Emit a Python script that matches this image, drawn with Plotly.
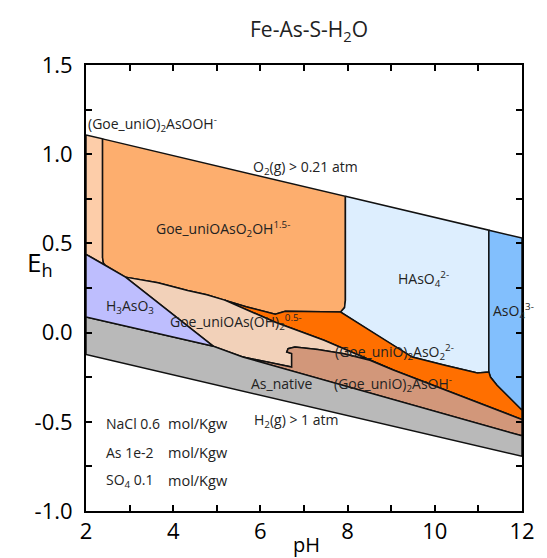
import plotly.graph_objects as go

# ---- Phase boundaries (pH, Eh in volts) ----
o2_line = [(2.0, 1.108), (2.38, 1.086), (7.95, 0.764), (11.24, 0.574), (12.0, 0.530)]
h2_line = [(2.0, -0.123), (12.0, -0.693)]

left_divider = [(2.38, 1.086), (2.38, 0.42), (2.40, 0.39), (2.45, 0.376)]
blue_top = [(2.0, 0.439), (2.45, 0.376), (2.906, 0.311)]
blue_right = [(2.906, 0.311), (4.924, -0.077)]

pink_top_upper = [(2.906, 0.311), (3.65, 0.280), (4.33, 0.236), (4.77, 0.212), (5.18, 0.182)]
pink_top_lower = [(5.18, 0.182), (6.343, 0.058), (7.46, -0.043), (9.034, -0.208)]
dorange_top = [(5.18, 0.182), (5.67, 0.145), (6.34, 0.103), (6.57, 0.119), (7.84, 0.115)]
lo_corner = [(7.84, 0.115), (7.93, 0.14), (7.95, 0.181), (7.95, 0.764)]
hasO4_bottom = [(7.84, 0.115), (8.735, -0.025), (9.482, -0.137), (10.229, -0.183),
                (10.978, -0.226), (11.24, -0.221)]
aso4_left = [(11.24, 0.574), (11.24, -0.221)]
aso4_bottom = [(11.24, -0.221), (11.276, -0.249), (11.426, -0.295), (11.724, -0.370), (12.0, -0.435)]
dorange_bottom = [(9.034, -0.208), (12.0, -0.487)]
brown_top = [(9.034, -0.208), (8.511, -0.155), (7.913, -0.118), (7.314, -0.095), (6.792, -0.081),
             (6.635, -0.090), (6.605, -0.109), (6.717, -0.118), (6.717, -0.193), (6.193, -0.165),
             (5.596, -0.137)]
grey_top = [(2.0, 0.087), (4.924, -0.077), (5.596, -0.137), (12.0, -0.579)]

# ---- Region colours ----
colors = {
    "AsOOH": "#FDCDA9",
    "AsO2OH": "#FDAE6E",
    "HAsO4": "#DDEEFE",
    "AsO4": "#82BFFD",
    "AsO2": "#FF6F00",
    "AsOH2": "#F2D1B9",
    "AsOH": "#D2977A",
    "native": "#B9B9B9",
    "H3AsO3": "#BEBEFE",
}


def rev(seg):
    return list(reversed(seg))


def join(*segs):
    pts = []
    for s in segs:
        pts.extend(s)
    return pts


regions = [
    ("AsOOH", join(o2_line[:2], left_divider, rev(blue_top[:2]))),
    ("AsO2OH", join(o2_line[1:3], rev(lo_corner), rev(dorange_top), rev(pink_top_upper),
                    blue_top[1:2], rev(left_divider))),
    ("HAsO4", join(o2_line[2:4], aso4_left, rev(hasO4_bottom), lo_corner)),
    ("AsO4", join(o2_line[3:5], [(12.0, -0.435)], rev(aso4_bottom))),
    ("AsO2", join(dorange_top, hasO4_bottom, aso4_bottom, [(12.0, -0.487)],
                  rev(dorange_bottom), rev(pink_top_lower))),
    ("AsOH2", join(pink_top_upper, pink_top_lower, brown_top, [(4.924, -0.077)])),
    ("AsOH", join(rev(brown_top), dorange_bottom, rev(grey_top[2:]))),
    ("native", join(grey_top, rev(h2_line))),
    ("H3AsO3", join(blue_top, blue_right[1:], rev(grey_top[:2]))),
]

fig = go.Figure()
for name, pts in regions:
    fig.add_trace(go.Scatter(
        x=[p[0] for p in pts] + [pts[0][0]],
        y=[p[1] for p in pts] + [pts[0][1]],
        mode="lines",
        fill="toself",
        fillcolor=colors[name],
        line=dict(color="#111111", width=1.5),
        hoverinfo="skip",
        showlegend=False,
    ))

# ---- Region labels (left edge pH, Eh of text line) ----
label_font = dict(family="Open Sans", size=14, color="#222222")
labels = [
    (2.01, 1.172, "(Goe_uniO)<sub>2</sub>AsOOH<sup>-</sup>"),
    (5.78, 0.925, "O<sub>2</sub>(g) > 0.21 atm"),
    (3.57, 0.580, "Goe_uniOAsO<sub>2</sub>OH<sup>1.5-</sup>"),
    (9.12, 0.300, "HAsO<sub>4</sub><sup>2-</sup>"),
    (11.30, 0.123, "AsO<sub>4</sub><sup>3-</sup>"),
    (2.41, 0.146, "H<sub>3</sub>AsO<sub>3</sub>"),
    (3.89, 0.057, "Goe_uniOAs(OH)<sub>2</sub><sup>0.5-</sup>"),
    (7.66, -0.111, "(Goe_uniO)<sub>2</sub>AsO<sub>2</sub><sup>2-</sup>"),
    (5.74, -0.286, "As_native"),
    (7.64, -0.288, "(Goe_uniO)<sub>2</sub>AsOH<sup>-</sup>"),
    (5.80, -0.493, "H<sub>2</sub>(g) > 1 atm"),
]
for x, y, t in labels:
    fig.add_annotation(x=x, y=y, text=t, showarrow=False, font=label_font,
                       xanchor="left", yanchor="middle")

# ---- Composition note ----
species = ["NaCl 0.6", "As 1e-2", "SO<sub>4</sub> 0.1"]
units = ["mol/Kgw", "mol/Kgw", "mol/Kgw"]
note_eh = [-0.508, -0.670, -0.830]
for s, u, y in zip(species, units, note_eh):
    fig.add_annotation(x=2.41, y=y, text=s, showarrow=False, font=label_font,
                       xanchor="left", yanchor="middle")
    fig.add_annotation(x=3.83, y=y, text=u, showarrow=False,
                       font=dict(family="Open Sans", size=14.5, color="#222222"),
                       xanchor="left", yanchor="middle")

# ---- Axes ----
x_ticks = list(range(2, 13))
x_ticktext = [str(v) if v % 2 == 0 else "" for v in x_ticks]
y_ticks = [-1.0, -0.75, -0.5, -0.25, 0.0, 0.25, 0.5, 0.75, 1.0, 1.25, 1.5]
y_ticktext = ["-1.0", "", "-0.5", "", "0.0", "", "0.5", "", "1.0", "", "1.5"]

axis_common = dict(showline=True, linecolor="black", linewidth=2, mirror="ticks",
                   ticks="inside", ticklen=6, tickwidth=1.5, tickcolor="black",
                   showgrid=False, zeroline=False,
                   tickfont=dict(family="Open Sans", size=22, color="black"))

fig.update_xaxes(range=[2, 12], tickvals=x_ticks, ticktext=x_ticktext, **axis_common)
fig.update_yaxes(range=[-1, 1.5], tickvals=y_ticks, ticktext=y_ticktext,
                 ticklabelstandoff=7, **axis_common)

fig.add_annotation(xref="paper", yref="paper", x=0.505, y=-0.075, text="pH", showarrow=False,
                   font=dict(family="Open Sans", size=20, color="black"),
                   xanchor="center", yanchor="middle")
fig.add_annotation(xref="paper", yref="paper", x=-0.105, y=0.555, text="E<sub>h</sub>",
                   showarrow=False, font=dict(family="Open Sans", size=26, color="black"),
                   xanchor="center", yanchor="middle")

fig.update_layout(
    width=547, height=558,
    margin=dict(l=86, r=15, t=65, b=47),
    paper_bgcolor="white", plot_bgcolor="white",
    title=dict(text="Fe-As-S-H<sub>2</sub>O", x=(86 + 532) / 2 / 547, xanchor="center",
               y=1 - 30 / 558, yanchor="middle",
               font=dict(family="Open Sans", size=21, color="#222222")),
)

fig.write_html("out.html")
